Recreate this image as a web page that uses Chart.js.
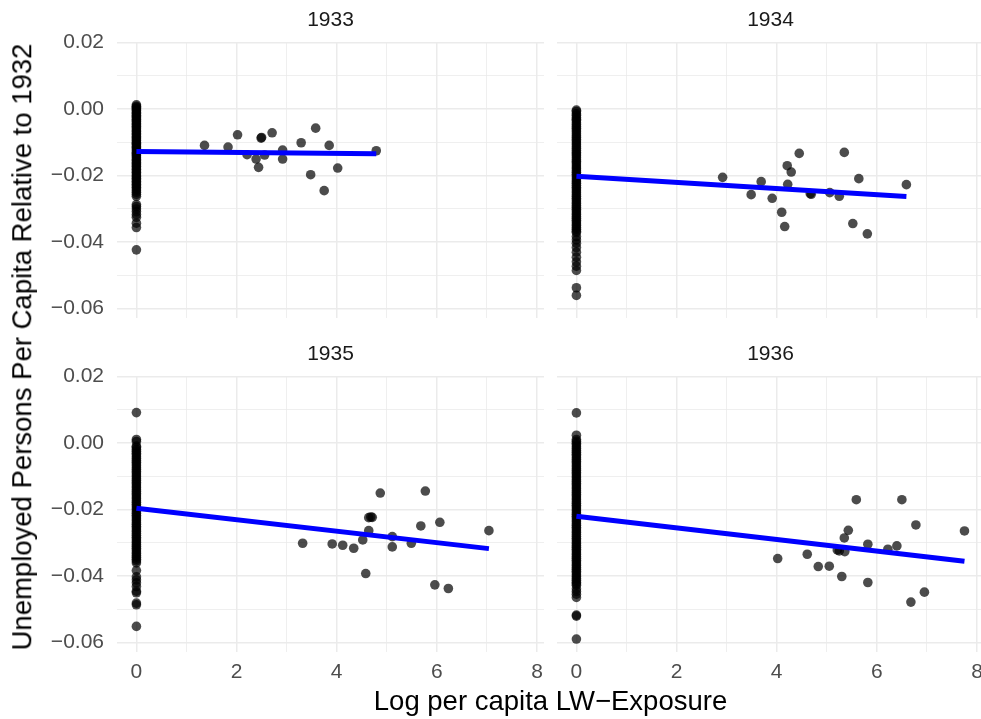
<!DOCTYPE html>
<html>
<head>
<meta charset="utf-8">
<script src="https://cdn.jsdelivr.net/npm/chart.js@4/dist/chart.umd.min.js"></script>
<style>
  html, body { margin: 0; padding: 0; background: #ffffff; overflow: hidden; }
  #page { position: relative; width: 981px; height: 719px; overflow: hidden; background: #ffffff; }
  canvas { position: absolute; }
  .axis-title { position: absolute; font-family: "Liberation Sans", Arial, sans-serif; font-size: 27.5px; line-height: 1; color: #000000; white-space: nowrap; transform: translate(-50%, -50%); }
  #ytitle { transform: translate(-50%, -50%) rotate(-90deg); }
</style>
</head>
<body>
<div id="page">
  <canvas id="p0"></canvas>
  <canvas id="p1"></canvas>
  <canvas id="p2"></canvas>
  <canvas id="p3"></canvas>
  <div class="axis-title" id="xtitle">Log per capita LW−Exposure</div>
  <div class="axis-title" id="ytitle">Unemployed Persons Per Capita Relative to 1932</div>
</div>
<script>
// Facet years
const years = ['1933', '1934', '1935', '1936'];

// Counties with positive exposure: log exposure and change in unemployment
const exposure1933 = [1.36, 1.83, 2.02, 2.21, 2.39, 2.44, 2.49, 2.50, 2.56, 2.71, 2.92, 2.92, 3.29, 3.48, 3.58, 3.75, 3.85, 4.02, 4.79];
const change1933   = [-0.0110, -0.0115, -0.0078, -0.0138, -0.0151, -0.0176, -0.0088, -0.0086, -0.0139, -0.0072, -0.0124, -0.0151, -0.0102, -0.0198, -0.0058, -0.0246, -0.0110, -0.0178, -0.0126];

const exposure1934 = [2.92, 3.49, 3.69, 3.91, 4.10, 4.16, 4.21, 4.22, 4.29, 4.45, 4.67, 4.69, 5.06, 5.25, 5.35, 5.52, 5.64, 5.81, 6.59];
const change1934   = [-0.0206, -0.0258, -0.0219, -0.0269, -0.0311, -0.0354, -0.0171, -0.0227, -0.0190, -0.0134, -0.0255, -0.0257, -0.0252, -0.0263, -0.0131, -0.0345, -0.0210, -0.0376, -0.0228];

const exposure1935 = [3.32, 3.91, 4.12, 4.34, 4.52, 4.58, 4.64, 4.68, 4.71, 4.64, 4.87, 5.11, 5.11, 5.49, 5.68, 5.77, 5.96, 6.06, 6.23, 7.04];
const change1935   = [-0.0302, -0.0304, -0.0308, -0.0317, -0.0292, -0.0393, -0.0225, -0.0223, -0.0224, -0.0264, -0.0151, -0.0282, -0.0313, -0.0302, -0.0250, -0.0145, -0.0427, -0.0239, -0.0438, -0.0264];

const exposure1936 = [4.02, 4.61, 4.83, 5.05, 5.21, 5.25, 5.30, 5.36, 5.35, 5.43, 5.59, 5.82, 5.82, 6.22, 6.40, 6.50, 6.68, 6.78, 6.95, 7.75];
const change1936   = [-0.0348, -0.0335, -0.0372, -0.0371, -0.0322, -0.0325, -0.0402, -0.0327, -0.0286, -0.0263, -0.0171, -0.0305, -0.0420, -0.0320, -0.0310, -0.0171, -0.0479, -0.0247, -0.0449, -0.0265];

// Counties with zero exposure (log exposure = 0): change in unemployment
const unexposed1933 = [0.0012, 0.0008, 0.0005, 0.0001, -0.0003, -0.0006, -0.0011, -0.0014, -0.0019, -0.0023, -0.0027, -0.0031, -0.0036, -0.0039, -0.0044, -0.0048, -0.0052, -0.0057, -0.0061, -0.0066, -0.0069, -0.0074, -0.0078, -0.0083, -0.0087, -0.0091, -0.0095, -0.0101, -0.0104, -0.0108, -0.0113, -0.0117, -0.0121, -0.0126, -0.0131, -0.0134, -0.0139, -0.0142, -0.0147, -0.0152, -0.0156, -0.0161, -0.0165, -0.0169, -0.0173, -0.0178, -0.0182, -0.0187, -0.0191, -0.0196, -0.0201, -0.0204, -0.0209, -0.0213, -0.0218, -0.0222, -0.0227, -0.0231, -0.0236, -0.0241, -0.0246, -0.0251, -0.0257, -0.0263, -0.0288, -0.0294, -0.0301, -0.0309, -0.0318, -0.0326, -0.0344, -0.0357, -0.0424];

const unexposed1934 = [-0.0004, -0.0008, -0.0015, -0.0019, -0.0026, -0.0031, -0.0035, -0.0042, -0.0047, -0.0053, -0.0058, -0.0064, -0.0069, -0.0075, -0.0081, -0.0086, -0.0092, -0.0097, -0.0103, -0.0108, -0.0114, -0.0119, -0.0125, -0.0131, -0.0136, -0.0141, -0.0147, -0.0153, -0.0158, -0.0163, -0.0169, -0.0175, -0.0180, -0.0186, -0.0191, -0.0197, -0.0202, -0.0208, -0.0214, -0.0219, -0.0224, -0.0230, -0.0236, -0.0241, -0.0247, -0.0252, -0.0258, -0.0263, -0.0269, -0.0274, -0.0280, -0.0285, -0.0291, -0.0296, -0.0302, -0.0307, -0.0313, -0.0318, -0.0324, -0.0329, -0.0335, -0.0340, -0.0346, -0.0351, -0.0357, -0.0362, -0.0368, -0.0372, -0.0384, -0.0394, -0.0404, -0.0417, -0.0431, -0.0446, -0.0460, -0.0473, -0.0486, -0.0538, -0.0561];

const unexposed1935 = [0.0091, 0.0010, 0.0004, -0.0010, -0.0014, -0.0020, -0.0025, -0.0031, -0.0036, -0.0042, -0.0047, -0.0053, -0.0058, -0.0064, -0.0069, -0.0075, -0.0080, -0.0086, -0.0091, -0.0097, -0.0102, -0.0108, -0.0113, -0.0119, -0.0124, -0.0130, -0.0135, -0.0141, -0.0146, -0.0152, -0.0157, -0.0163, -0.0168, -0.0174, -0.0179, -0.0185, -0.0190, -0.0196, -0.0201, -0.0207, -0.0212, -0.0218, -0.0223, -0.0229, -0.0234, -0.0240, -0.0245, -0.0251, -0.0256, -0.0262, -0.0267, -0.0273, -0.0278, -0.0284, -0.0289, -0.0295, -0.0300, -0.0306, -0.0311, -0.0317, -0.0322, -0.0328, -0.0333, -0.0339, -0.0344, -0.0350, -0.0355, -0.0361, -0.0384, -0.0403, -0.0412, -0.0421, -0.0432, -0.0446, -0.0451, -0.0482, -0.0487, -0.0552];

const unexposed1936 = [0.0090, 0.0023, 0.0010, 0.0005, -0.0001, -0.0006, -0.0012, -0.0017, -0.0023, -0.0028, -0.0034, -0.0039, -0.0045, -0.0050, -0.0056, -0.0061, -0.0067, -0.0072, -0.0078, -0.0083, -0.0089, -0.0094, -0.0100, -0.0105, -0.0111, -0.0116, -0.0122, -0.0127, -0.0133, -0.0138, -0.0144, -0.0149, -0.0155, -0.0160, -0.0166, -0.0171, -0.0177, -0.0182, -0.0188, -0.0193, -0.0199, -0.0204, -0.0210, -0.0215, -0.0221, -0.0226, -0.0232, -0.0237, -0.0243, -0.0248, -0.0254, -0.0259, -0.0265, -0.0270, -0.0276, -0.0281, -0.0287, -0.0292, -0.0298, -0.0303, -0.0309, -0.0314, -0.0320, -0.0325, -0.0331, -0.0336, -0.0342, -0.0347, -0.0353, -0.0358, -0.0364, -0.0369, -0.0375, -0.0380, -0.0386, -0.0391, -0.0397, -0.0402, -0.0408, -0.0413, -0.0419, -0.0424, -0.0428, -0.0439, -0.0447, -0.0455, -0.0465, -0.0518, -0.0521, -0.0590];

// Linear fit per year (intercept, slope)
const fitIntercept = [-0.0128, -0.0203, -0.0197, -0.0221];
const fitSlope     = [-0.00015, -0.00092, -0.00172, -0.00174];

// Shared axis limits and ticks
const xLimits = [-0.3877, 8.14];
const yLimits = [-0.0629, 0.0201];
const xTickStep = 1;
const yTickStep = 0.01;

const exposureByYear  = [exposure1933, exposure1934, exposure1935, exposure1936];
const changeByYear    = [change1933, change1934, change1935, change1936];
const unexposedByYear = [unexposed1933, unexposed1934, unexposed1935, unexposed1936];

Chart.defaults.font.family = '"Liberation Sans", Arial, Helvetica, sans-serif';
Chart.defaults.animation = false;

const GRID = '#EBEBEB';
const TICK_COLOR = '#4D4D4D';
const STRIP_COLOR = '#1A1A1A';
const POINT_COLOR = 'rgba(0,0,0,0.7)';

// Panel geometry (page pixels)
const colPlotLeft = [117, 557];
const plotWidth = 427;
const rowCanvasTop = [0, 334];
const stripHeight = 42;
const plotHeight = 276;
const yAxisWidth = 80;
const xAxisHeight = 40;

function fmtY(v) {
  const s = Math.abs(v).toFixed(2);
  return v < -1e-9 ? '\u2212' + s : s;
}
function isMajorY(v) { return Math.abs(Math.round(v * 100)) % 2 === 0; }
function isMajorX(v) { return Math.abs(Math.round(v)) % 2 === 0; }

// Axis boxes get fixed sizes and no extra label padding, so every panel
// keeps the same plotting area whatever labels it carries.
function fixAxis(size, horizontal) {
  return s => {
    if (horizontal) s.height = size; else s.width = size;
    s.paddingTop = 0; s.paddingBottom = 0; s.paddingLeft = 0; s.paddingRight = 0;
  };
}

function makePanel(i) {
  const col = i % 2, row = Math.floor(i / 2);
  const hasY = col === 0, hasX = row === 1;
  const canvas = document.getElementById('p' + i);
  const left = colPlotLeft[col] - (hasY ? yAxisWidth : 0);
  const width = plotWidth + (hasY ? yAxisWidth : 0);
  const height = stripHeight + plotHeight + (hasX ? xAxisHeight : 0);
  canvas.width = width; canvas.height = height;
  canvas.style.left = left + 'px';
  canvas.style.top = rowCanvasTop[row] + 'px';
  canvas.style.width = width + 'px';
  canvas.style.height = height + 'px';

  const xs = exposureByYear[i], ys = changeByYear[i];
  const exposed = xs.map((x, k) => ({ x: x, y: ys[k] }));
  const zero = unexposedByYear[i].map(y => ({ x: 0, y: y }));
  const xMax = Math.max(...xs);
  const fit = [0, xMax].map(x => ({ x: x, y: fitIntercept[i] + fitSlope[i] * x }));

  new Chart(canvas, {
    type: 'scatter',
    data: {
      datasets: [
        { type: 'line', data: fit, borderColor: '#0000FF', borderWidth: 5, pointRadius: 0, fill: false, order: 0, borderCapStyle: 'butt' },
        { data: zero, pointRadius: 4.8, pointBackgroundColor: POINT_COLOR, pointBorderWidth: 0, borderWidth: 0, order: 1 },
        { data: exposed, pointRadius: 4.8, pointBackgroundColor: POINT_COLOR, pointBorderWidth: 0, borderWidth: 0, order: 1 }
      ]
    },
    options: {
      responsive: false,
      maintainAspectRatio: false,
      layout: { padding: 0, autoPadding: false },
      plugins: {
        legend: { display: false },
        tooltip: { enabled: false },
        title: {
          display: true, text: years[i], color: STRIP_COLOR, fullSize: false,
          font: { size: 21, weight: 'normal' },
          padding: { top: 7.4, bottom: 9.4 }
        }
      },
      scales: {
        x: {
          type: 'linear', min: xLimits[0], max: xLimits[1],
          border: { display: false },
          grid: {
            drawTicks: false, color: GRID,
            lineWidth: c => isMajorX(c.tick.value) ? 1.5 : 0.8
          },
          ticks: {
            display: hasX, stepSize: xTickStep, includeBounds: false, autoSkip: false,
            maxRotation: 0, padding: 8, color: TICK_COLOR, font: { size: 21 },
            callback: v => isMajorX(v) ? String(Math.round(v)) : ''
          },
          afterFit: fixAxis(hasX ? xAxisHeight : 0, true)
        },
        y: {
          type: 'linear', min: yLimits[0], max: yLimits[1],
          border: { display: false },
          grid: {
            drawTicks: false, color: GRID,
            lineWidth: c => isMajorY(c.tick.value) ? 1.5 : 0.8
          },
          ticks: {
            display: hasY, stepSize: yTickStep, includeBounds: false, autoSkip: false,
            padding: 13, color: TICK_COLOR, font: { size: 21 },
            callback: v => isMajorY(v) ? fmtY(v) : ''
          },
          afterFit: fixAxis(hasY ? yAxisWidth : 0, false)
        }
      }
    }
  });
}

for (let i = 0; i < 4; i++) makePanel(i);

// Shared axis titles, centred on the panel block
const xt = document.getElementById('xtitle');
xt.style.left = ((colPlotLeft[0] + colPlotLeft[1] + plotWidth) / 2) + 'px';
xt.style.top = '701px';
const yt = document.getElementById('ytitle');
yt.style.left = '22px';
yt.style.top = ((stripHeight + rowCanvasTop[1] + stripHeight + plotHeight) / 2) + 'px';
</script>
</body>
</html>
